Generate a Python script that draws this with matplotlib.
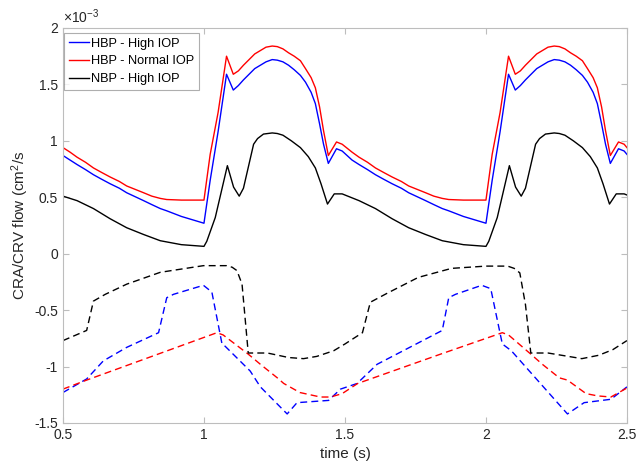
#!/usr/bin/env python3
"""
Plot CRA/CRV flow over two cardiac cycles for three BP/IOP cases.
Solid lines: CRA flow, dashed lines: CRV flow (values in units of 1e-3 cm^2/s).
"""

import matplotlib
matplotlib.use("Agg")
import matplotlib.pyplot as plt

SCALE_LABEL = r"$\times 10^{-3}$"

# --- solid curves (CRA) ---------------------------------------------------
t_hbp = [0.5, 0.525, 0.55, 0.58, 0.608, 0.637, 0.667, 0.70, 0.726, 0.756,
         0.786, 0.815, 0.845, 0.868, 0.92, 1.0,
         1.022, 1.05, 1.08, 1.104, 1.122, 1.14, 1.16, 1.18, 1.2, 1.22,
         1.242, 1.26, 1.28, 1.3, 1.32, 1.342, 1.36, 1.38, 1.395, 1.41,
         1.424, 1.441, 1.47, 1.49,
         1.525, 1.55, 1.58, 1.608, 1.637, 1.667, 1.70, 1.726, 1.756,
         1.786, 1.815, 1.845, 1.868, 1.92, 2.0,
         2.022, 2.05, 2.08, 2.104, 2.122, 2.14, 2.16, 2.18, 2.2, 2.22,
         2.242, 2.26, 2.28, 2.3, 2.32, 2.342, 2.36, 2.38, 2.395, 2.41,
         2.424, 2.441, 2.47, 2.49, 2.5]
v_hbp_high = [0.87, 0.83, 0.79, 0.745, 0.70, 0.66, 0.62, 0.58, 0.54, 0.505,
              0.47, 0.435, 0.40, 0.38, 0.33, 0.27,
              0.65, 1.08, 1.59, 1.45, 1.49, 1.54, 1.59, 1.64, 1.67, 1.70,
              1.72, 1.715, 1.70, 1.67, 1.63, 1.58, 1.52, 1.43, 1.33, 1.15,
              0.97, 0.80, 0.93, 0.91,
              0.83, 0.79, 0.745, 0.70, 0.66, 0.62, 0.58, 0.54, 0.505,
              0.47, 0.435, 0.40, 0.38, 0.33, 0.27,
              0.65, 1.08, 1.59, 1.45, 1.49, 1.54, 1.59, 1.64, 1.67, 1.70,
              1.72, 1.715, 1.70, 1.67, 1.63, 1.58, 1.52, 1.43, 1.33, 1.15,
              0.97, 0.80, 0.93, 0.91, 0.88]
v_hbp_norm = [0.94, 0.90, 0.855, 0.81, 0.76, 0.72, 0.68, 0.64, 0.60, 0.57,
              0.54, 0.51, 0.49, 0.48, 0.475, 0.475,
              0.88, 1.25, 1.75, 1.59, 1.62, 1.67, 1.72, 1.77, 1.80, 1.83,
              1.84, 1.835, 1.815, 1.78, 1.75, 1.71, 1.64, 1.56, 1.47, 1.30,
              1.09, 0.87, 0.99, 0.97,
              0.90, 0.855, 0.81, 0.76, 0.72, 0.68, 0.64, 0.60, 0.57,
              0.54, 0.51, 0.49, 0.48, 0.475, 0.475,
              0.88, 1.25, 1.75, 1.59, 1.62, 1.67, 1.72, 1.77, 1.80, 1.83,
              1.84, 1.835, 1.815, 1.78, 1.75, 1.71, 1.64, 1.56, 1.47, 1.30,
              1.09, 0.87, 0.99, 0.97, 0.94]

t_nbp = [0.5, 0.55, 0.608, 0.667, 0.726, 0.786, 0.845, 0.92, 1.0,
         1.01, 1.04, 1.083, 1.105, 1.125, 1.14, 1.176, 1.19, 1.211, 1.242,
         1.26, 1.28, 1.31, 1.342, 1.37, 1.395, 1.415, 1.438, 1.462, 1.49,
         1.55, 1.608, 1.667, 1.726, 1.786, 1.845, 1.92, 2.0,
         2.01, 2.04, 2.083, 2.105, 2.125, 2.14, 2.176, 2.19, 2.211, 2.242,
         2.26, 2.28, 2.31, 2.342, 2.37, 2.395, 2.415, 2.438, 2.462, 2.49, 2.5]
v_nbp_high = [0.51, 0.47, 0.40, 0.31, 0.23, 0.17, 0.115, 0.08, 0.065,
              0.11, 0.32, 0.78, 0.59, 0.51, 0.58, 0.97, 1.02, 1.06, 1.07,
              1.065, 1.05, 1.00, 0.94, 0.86, 0.76, 0.62, 0.44, 0.53, 0.53,
              0.47, 0.40, 0.31, 0.23, 0.17, 0.115, 0.08, 0.065,
              0.11, 0.32, 0.78, 0.59, 0.51, 0.58, 0.97, 1.02, 1.06, 1.07,
              1.065, 1.05, 1.00, 0.94, 0.86, 0.76, 0.62, 0.44, 0.53, 0.53, 0.52]

# --- dashed curves (CRV) --------------------------------------------------
td_hbp_high = [0.5, 0.584, 0.643, 0.726, 0.839, 0.868, 0.892, 0.998, 1.028,
               1.064, 1.075, 1.164, 1.2, 1.295, 1.33, 1.442, 1.484, 1.543,
               1.614, 1.845, 1.868, 1.892, 1.985, 2.017, 2.058, 2.09,
               2.289, 2.348, 2.443, 2.5]
vd_hbp_high = [-1.23, -1.11, -0.95, -0.83, -0.70, -0.39, -0.36, -0.28, -0.34,
               -0.80, -0.82, -1.04, -1.18, -1.42, -1.32, -1.30, -1.20, -1.15,
               -0.98, -0.68, -0.39, -0.36, -0.28, -0.31, -0.80, -0.86,
               -1.42, -1.32, -1.29, -1.18]

td_hbp_norm = [0.5, 0.584, 1.046, 1.068, 1.157, 1.2, 1.26, 1.283, 1.34, 1.413,
               1.449, 1.49, 1.545, 1.839, 2.058, 2.08, 2.159, 2.2, 2.26, 2.289,
               2.355, 2.396, 2.443, 2.5]
vd_hbp_norm = [-1.20, -1.12, -0.70, -0.72, -0.89, -0.98, -1.10, -1.15, -1.23,
               -1.27, -1.27, -1.24, -1.15, -0.89, -0.70, -0.72, -0.89, -0.98,
               -1.10, -1.12, -1.24, -1.26, -1.27, -1.19]

td_nbp_high = [0.5, 0.584, 0.608, 0.65, 0.726, 0.845, 0.998, 1.08, 1.1, 1.117,
               1.135, 1.157, 1.225, 1.3, 1.353, 1.4, 1.46, 1.5, 1.562, 1.59,
               1.65, 1.76, 1.878, 2.0, 2.077, 2.1, 2.12, 2.14, 2.159, 2.22,
               2.34, 2.4, 2.45, 2.5]
vd_nbp_high = [-0.77, -0.68, -0.42, -0.36, -0.27, -0.165, -0.106, -0.106, -0.12, -0.15,
               -0.27, -0.88, -0.88, -0.92, -0.93, -0.91, -0.86, -0.80, -0.70, -0.43,
               -0.35, -0.21, -0.13, -0.11, -0.11, -0.13, -0.17, -0.45, -0.88, -0.88,
               -0.93, -0.90, -0.85, -0.77]

x_ticks = [0.5, 1, 1.5, 2, 2.5]
y_ticks = [-1.5, -1, -0.5, 0, 0.5, 1, 1.5, 2]

BLUE = "#0000ff"
RED = "#ff0000"
BLACK = "#000000"


def main():
    plt.rcParams["font.family"] = ["Liberation Sans", "DejaVu Sans"]
    plt.rcParams["mathtext.fontset"] = "custom"
    plt.rcParams["mathtext.rm"] = "Liberation Sans"
    plt.rcParams["mathtext.it"] = "Liberation Sans"

    fig = plt.figure(figsize=(6.38, 4.68), dpi=100)
    ax = fig.add_axes([0.0987, 0.0962, 0.884, 0.844])

    lw = 1.0
    ax.plot(t_hbp, v_hbp_high, color=BLUE, lw=lw, label="HBP - High IOP")
    ax.plot(t_hbp, v_hbp_norm, color=RED, lw=lw, label="HBP - Normal IOP")
    ax.plot(t_nbp, v_nbp_high, color=BLACK, lw=lw, label="NBP - High IOP")

    dash = (0, (5, 3))
    ax.plot(td_hbp_high, vd_hbp_high, color=BLUE, lw=lw, ls=dash)
    ax.plot(td_hbp_norm, vd_hbp_norm, color=RED, lw=lw, ls=dash)
    ax.plot(td_nbp_high, vd_nbp_high, color=BLACK, lw=lw, ls=dash)

    ax.set_xlim(0.5, 2.5)
    ax.set_ylim(-1.5, 2)
    ax.set_xticks(x_ticks)
    ax.set_yticks(y_ticks)
    ax.set_xticklabels([f"{v:g}" for v in x_ticks])
    ax.set_yticklabels([f"{v:g}" for v in y_ticks])

    frame = "#bdbdbd"
    for sp in ax.spines.values():
        sp.set_color(frame)
        sp.set_linewidth(0.8)
    ax.tick_params(direction="in", top=True, right=True, length=4,
                   color=frame, labelcolor="#262626", labelsize=10)

    ax.set_xlabel("time (s)", fontsize=11, color="#262626", labelpad=4)
    ax.set_ylabel("CRA/CRV flow (cm$^2$/s", fontsize=11, color="#262626", labelpad=2)
    ax.text(0.0, 1.005, SCALE_LABEL, transform=ax.transAxes, fontsize=10,
            color="#262626", ha="left", va="bottom")

    leg = ax.legend(loc="upper left", bbox_to_anchor=(0.002, 0.987), fontsize=9.2,
                    frameon=True, fancybox=False, borderaxespad=0.0,
                    handlelength=1.6, handletextpad=0.15,
                    labelspacing=0.45, borderpad=0.35)
    leg.get_frame().set_edgecolor("#9a9a9a")
    leg.get_frame().set_linewidth(0.8)

    fig.savefig("out.png", dpi=100)


if __name__ == "__main__":
    main()
